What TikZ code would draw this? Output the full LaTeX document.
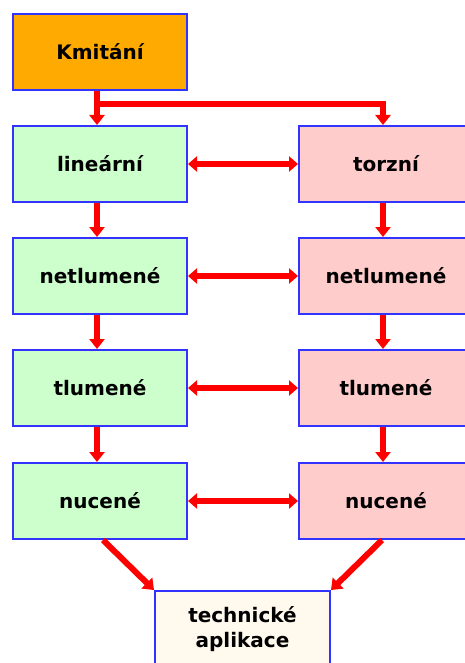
\documentclass[tikz,border=0pt]{standalone}
\usepackage{fontspec}
\setmainfont{DejaVu Sans}
\usetikzlibrary{arrows.meta,calc}
\definecolor{boxblue}{HTML}{3333FF}
\definecolor{korange}{HTML}{FFAA00}
\definecolor{kgreen}{HTML}{CCFFCC}
\definecolor{kpink}{HTML}{FFCCCC}
\definecolor{kcream}{HTML}{FFF9EE}
\tikzset{
  box/.style={draw=boxblue, line width=2pt, minimum width=174pt, minimum height=76pt,
    inner sep=0pt, align=center, font=\fontsize{20}{25}\selectfont\bfseries},
  arr/.style={draw=red, line width=6pt, -{Triangle[width=15pt,length=10pt]}},
  darr/.style={draw=red, line width=6pt, {Triangle[width=15pt,length=9pt]}-{Triangle[width=15pt,length=9pt]}},
}
\begin{document}
\begin{tikzpicture}[x=1pt,y=-1pt]
\useasboundingbox (0,0) rectangle (464,663);
\node[box, fill=korange] (k) at (100,52) {Kmitání};
\node[box, fill=kgreen] (l1) at (100,164) {lineární};
\node[box, fill=kgreen] (l2) at (100,276) {netlumené};
\node[box, fill=kgreen] (l3) at (100,388) {tlumené};
\node[box, fill=kgreen] (l4) at (100,501) {nucené};
\node[box, fill=kpink] (r1) at (386,164) {torzní};
\node[box, fill=kpink] (r2) at (386,276) {netlumené};
\node[box, fill=kpink] (r3) at (386,388) {tlumené};
\node[box, fill=kpink] (r4) at (386,501) {nucené};
\node[box, fill=kcream, minimum width=175pt] (t) at (242.5,629) {technické\\aplikace};
\coordinate (kb) at ($(k.south)+(-3,0)$);
\draw[arr] (kb) -- (kb |- l1.north);
\draw[arr] (kb |- 0,104) -| ($(r1.north)+(-3,0)$);
\foreach \i/\j in {1/2,2/3,3/4}{
  \draw[arr] ($(l\i.south)+(-3,0)$) -- ($(l\j.north)+(-3,0)$);
  \draw[arr] ($(r\i.south)+(-3,0)$) -- ($(r\j.north)+(-3,0)$);
}
\foreach \i in {1,2,3,4}{
  \draw[darr] (l\i.east) -- (r\i.west);
}
\draw[arr] ($(l4.south)+(3,0)$) -- (t.north west);
\draw[arr] ($(r4.south)+(-4,0)$) -- (t.north east);
\end{tikzpicture}
\end{document}
